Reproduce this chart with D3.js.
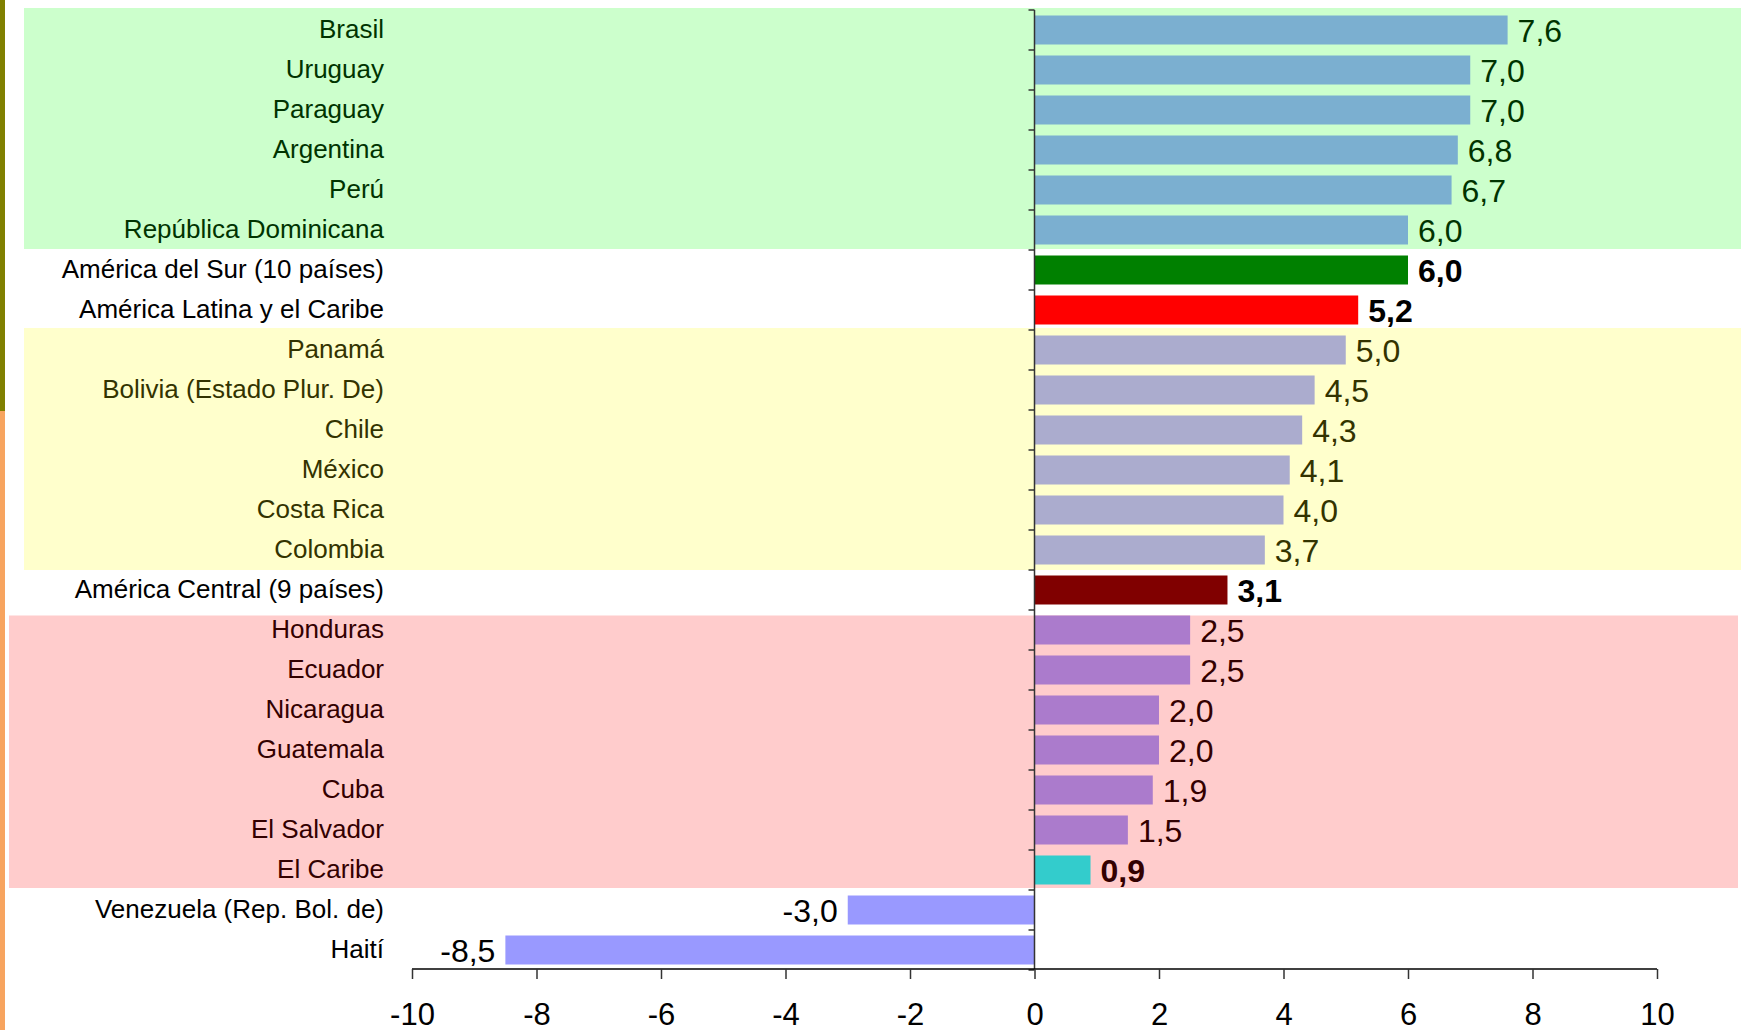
<!DOCTYPE html>
<html>
<head>
<meta charset="utf-8">
<script src="https://cdn.jsdelivr.net/npm/d3@7"></script>
<style>
  html, body { margin: 0; padding: 0; background: #fff; }
  svg { display: block; font-family: Arial, "Liberation Sans", sans-serif; }
</style>
</head>
<body>
<svg id="chart" width="1741" height="1030"></svg>
<script>
const categories = [
  "Brasil", "Uruguay", "Paraguay", "Argentina", "Perú", "República Dominicana",
  "América del Sur (10 países)", "América Latina y el Caribe",
  "Panamá", "Bolivia (Estado Plur. De)", "Chile", "México", "Costa Rica", "Colombia",
  "América Central (9 países)",
  "Honduras", "Ecuador", "Nicaragua", "Guatemala", "Cuba", "El Salvador", "El Caribe",
  "Venezuela (Rep. Bol. de)", "Haití"
];
const values = [
  7.6, 7.0, 7.0, 6.8, 6.7, 6.0,
  6.0, 5.2,
  5.0, 4.5, 4.3, 4.1, 4.0, 3.7,
  3.1,
  2.5, 2.5, 2.0, 2.0, 1.9, 1.5, 0.9,
  -3.0, -8.5
];
const groups = [
  "high", "high", "high", "high", "high", "high",
  "sur", "alc",
  "mid", "mid", "mid", "mid", "mid", "mid",
  "central",
  "low", "low", "low", "low", "low", "low", "caribe",
  "neg", "neg"
];
const xTicks = [-10, -8, -6, -4, -2, 0, 2, 4, 6, 8, 10];

// styles
const barColor = { high: "#7bafd0", sur: "#008000", alc: "#ff0000", mid: "#abacce",
  central: "#800000", low: "#ab7bcc", caribe: "#33cccc", neg: "#9999ff" };
const textColor = { high: "#003300", sur: "#000000", alc: "#000000", mid: "#333300",
  central: "#000000", low: "#330000", caribe: "#330000", neg: "#000000" };
const boldGroups = new Set(["sur", "alc", "central", "caribe"]);

const data = categories.map((c, i) => ({ cat: c, value: values[i], group: groups[i] }));

const svg = d3.select("#chart");

const x = d3.scaleLinear().domain([-10, 10]).range([412, 1657]);
const y = d3.scaleBand().domain(categories).range([10, 970]).paddingInner(0.275).paddingOuter(0.1375);

// left-edge decoration
svg.append("rect").attr("x", 0).attr("y", 0).attr("width", 5).attr("height", 411).attr("fill", "#808000");
svg.append("rect").attr("x", 0).attr("y", 411).attr("width", 5).attr("height", 619).attr("fill", "#f7a45f");

// background bands
const bands = [
  { from: "Brasil", to: "República Dominicana", x0: 24, x1: 1741, padTop: 7.5, padBot: 4.5, color: "#ccffcc" },
  { from: "Panamá", to: "Colombia", x0: 24, x1: 1741, padTop: 7.5, padBot: 5.5, color: "#ffffcc" },
  { from: "Honduras", to: "El Caribe", x0: 9, x1: 1738, padTop: 0, padBot: 3.5, color: "#ffcccc" }
];
svg.append("g").selectAll("rect").data(bands).join("rect")
  .attr("x", d => d.x0)
  .attr("width", d => d.x1 - d.x0)
  .attr("y", d => y(d.from) - d.padTop)
  .attr("height", d => y(d.to) + y.bandwidth() + d.padBot - (y(d.from) - d.padTop))
  .attr("fill", d => d.color);

// bars
svg.append("g").selectAll("rect").data(data).join("rect")
  .attr("x", d => x(Math.min(0, d.value)))
  .attr("width", d => Math.abs(x(d.value) - x(0)))
  .attr("y", d => y(d.cat))
  .attr("height", y.bandwidth())
  .attr("fill", d => barColor[d.group]);

// category labels
svg.append("g").selectAll("text").data(data).join("text")
  .attr("x", 384)
  .attr("y", d => y(d.cat) + y.bandwidth() / 2 + 8)
  .attr("text-anchor", "end")
  .attr("font-size", 26)
  .attr("fill", d => textColor[d.group])
  .text(d => d.cat);

// value labels
const fmt = v => v.toFixed(1).replace(".", ",");
svg.append("g").selectAll("text").data(data).join("text")
  .attr("x", d => d.value >= 0 ? x(d.value) + 10 : x(d.value) - 10)
  .attr("y", d => y(d.cat) + y.bandwidth() / 2 + 12)
  .attr("text-anchor", d => d.value >= 0 ? "start" : "end")
  .attr("font-size", 32)
  .attr("font-weight", d => boldGroups.has(d.group) ? "bold" : "normal")
  .attr("fill", d => textColor[d.group])
  .text(d => fmt(d.value));

// y axis at zero with ticks at category boundaries
const yAxisG = svg.append("g").attr("transform", `translate(${x(0)},0)`);
const boundaries = categories.map(c => y(c) - y.step() * y.paddingInner() / 2).concat([970]);
yAxisG.selectAll("line.b").data(boundaries).join("line")
  .attr("class", "b")
  .attr("x1", -6).attr("x2", 0)
  .attr("y1", d => d).attr("y2", d => d)
  .attr("stroke", "#333").attr("stroke-width", 1.5);
yAxisG.append("line").attr("x1", 0).attr("x2", 0).attr("y1", 10).attr("y2", 970)
  .attr("stroke", "#333").attr("stroke-width", 1.5);

// x axis
const xAxis = d3.axisBottom(x).tickValues(xTicks).tickSize(10).tickPadding(24).tickFormat(d3.format("d"));
const xAxisG = svg.append("g").attr("transform", "translate(0,969)").call(xAxis);
xAxisG.select(".domain").attr("stroke", "#000").attr("stroke-width", 1.5).attr("d", `M${x(-10)},0H${x(10)}`);
xAxisG.selectAll(".tick line").attr("stroke", "#333").attr("stroke-width", 1.5);
xAxisG.selectAll(".tick text")
  .attr("font-size", 31)
  .attr("font-family", "Arial, 'Liberation Sans', sans-serif")
  .attr("fill", "#000")
  .text(d => d < 0 ? "-" + Math.abs(d) : String(d));
</script>
</body>
</html>
